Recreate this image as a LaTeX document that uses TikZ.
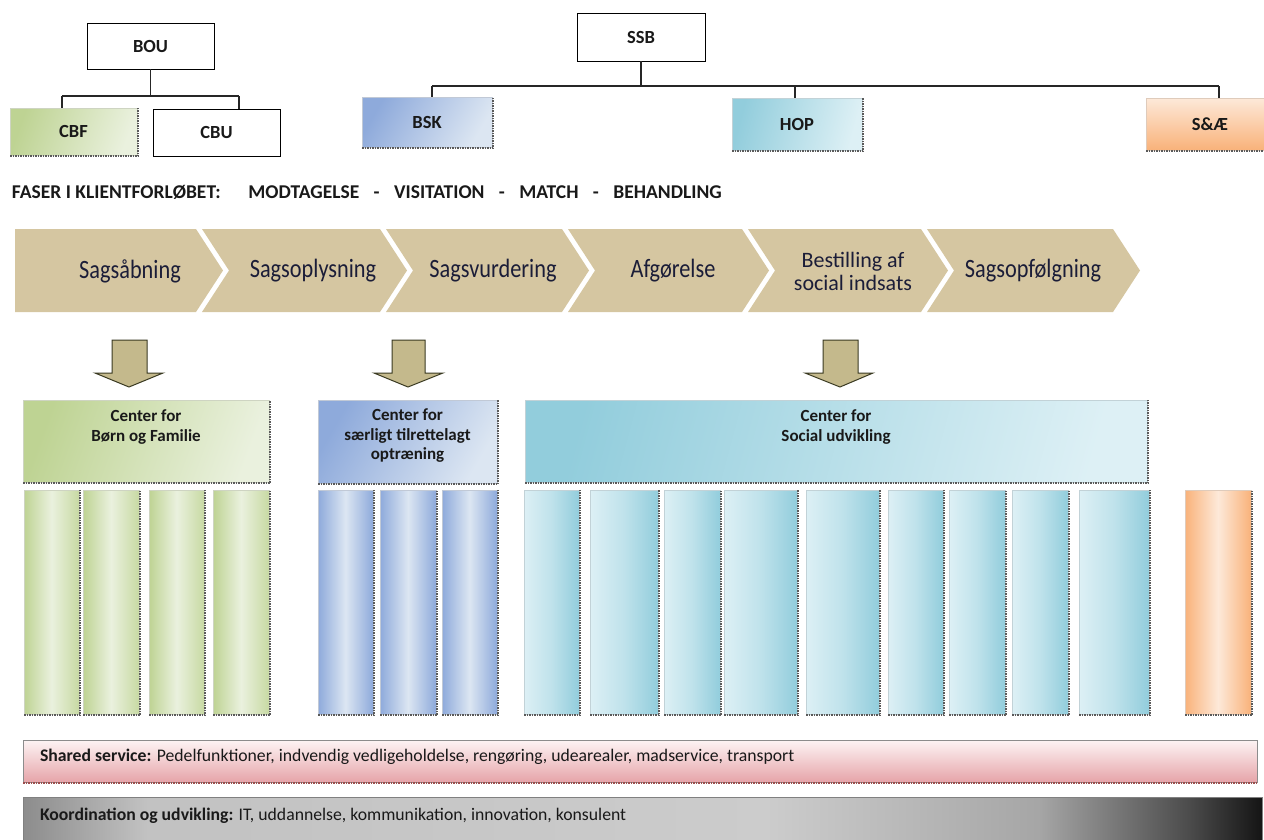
\documentclass[tikz,border=0pt]{standalone}
\usepackage{fontspec}
\setmainfont{Carlito}
\usetikzlibrary{fit,calc}
\definecolor{chev}{HTML}{D5C6A1}
\definecolor{chevtxt}{HTML}{1B1D38}
\definecolor{arrfill}{HTML}{C4B98C}
\definecolor{arrdraw}{HTML}{3A3A22}
\definecolor{gD}{HTML}{BED393}
\definecolor{gL}{HTML}{EAF1DE}
\definecolor{bD}{HTML}{8EAADB}
\definecolor{bL}{HTML}{DCE6F2}
\definecolor{cD}{HTML}{92CDDC}
\definecolor{cL}{HTML}{DDF0F5}
\definecolor{oD}{HTML}{F9B27A}
\definecolor{oL}{HTML}{FDE9D9}
\definecolor{pD}{HTML}{E6A4A9}
\definecolor{pL}{HTML}{FDF4F4}
\definecolor{shd}{HTML}{5A5A5A}
\pgfdeclarehorizontalshading{koordshade}{100bp}{color(0bp)=(black!45); color(25bp)=(black!45); color(30bp)=(black!24); color(55bp)=(black!20); color(66bp)=(black!35); color(72bp)=(black!70); color(75bp)=(black!92); color(100bp)=(black!92)}
\begin{document}
\begin{tikzpicture}[x=1pt,y=-1pt,
  every node/.style={inner sep=0pt, outer sep=0pt},
  orgfont/.style={font=\fontsize{18.5}{20}\selectfont\bfseries, text=black!90},
  orgbox/.style={draw=black, line width=0.9pt, fill=white},
  conn/.style={draw=black!85, line width=1.1pt},
  lbl/.style={font=\fontsize{19.5}{22}\selectfont\bfseries, text=black!90},
  ctext/.style={font=\fontsize{17}{19.5}\selectfont\bfseries, text=black!90, align=center, anchor=north},
  chevbody/.style={fill=chev},
  chevlbl/.style={font=\fontsize{23}{22}\selectfont, text=chevtxt, align=center},
  blockarrow/.style={fill=arrfill, draw=arrdraw, line width=1pt, line join=miter},
  shadowline/.style={draw=shd, line width=1.6pt, dash pattern=on 1.5pt off 1pt},
  gbox/.style={draw=gD!70!black!40, line width=0.3pt, left color=gD, right color=gL, shading angle=70},
  gcol/.style={draw=gD!70!black!40, line width=0.3pt, left color=gD, right color=gD!85, middle color=gL},
  bbox/.style={draw=bD!70!black!40, line width=0.3pt, left color=bD, right color=bL, shading angle=60},
  bcol/.style={draw=bD!70!black!40, line width=0.3pt, left color=bD, right color=bD, middle color=bL},
  cbox/.style={draw=cD!70!black!40, line width=0.3pt, left color=cD, right color=cL, shading angle=75},
  ccol/.style={draw=cD!70!black!40, line width=0.3pt, left color=cL, right color=cD, middle color=cL!60!cD},
  obox/.style={draw=oD!70!black!40, line width=0.3pt, top color=oL, bottom color=oD},
  ocol/.style={draw=oD!70!black!40, line width=0.3pt, left color=oD, right color=oD, middle color=oL},
  barlbl/.style={font=\fontsize{17.7}{20}\selectfont, text=black!90, anchor=west}
]
\useasboundingbox (0,0) rectangle (1264,839);

% ---------- top organisation charts ----------
\node[orgbox, fit={(87,23)(214,69)}] (bou) {};
\node[orgfont] (bout) at (bou.center) {BOU};
\node[gbox, fit={(10,108)(137,155)}] (cbf) {};
\node[orgfont] (cbft) at (cbf.center) {CBF};
\node[orgbox, fit={(153,109)(280,156)}] (cbu) {};
\node[orgfont] (cbut) at (cbu.center) {CBU};
\coordinate (bl) at (62,96);
\coordinate (br) at (239,96);
\draw[conn] (bou.south) -- (bou.south |- bl);
\draw[conn] (bl) -- (br);
\draw[conn] (bl) -- (bl |- cbf.north);
\draw[conn] (br) -- (br |- cbu.north);

\node[orgbox, fit={(577,13)(705,61)}] (ssb) {};
\node[orgfont] (ssbt) at (ssb.center) {SSB};
\node[bbox, fit={(362,97)(492,147)}] (bsk) {};
\node[orgfont] (bskt) at (bsk.center) {BSK};
\node[cbox, fit={(732,98)(862,150)}] (hop) {};
\node[orgfont] (hopt) at (hop.center) {HOP};
\node[obox, fit={(1146,98)(1276,150)}] (sae) {};
\node[orgfont] (saet) at (1210,124) {S\&Æ};
\coordinate (sl) at (432,86);
\coordinate (sh) at (795,86);
\coordinate (sr) at (1219,86);
\draw[conn] (ssb.south) -- (ssb.south |- sl);
\draw[conn] (sl) -- (sr);
\draw[conn] (sl) -- (sl |- bsk.north);
\draw[conn] (sh) -- (sh |- hop.north);
\draw[conn] (sr) -- (sr |- sae.north);

% ---------- phases line ----------
\node[lbl, anchor=west] (faser) at (12,192) {FASER I KLIENTFORLØBET:\hspace{1.42em}MODTAGELSE\hspace{0.74em}-\hspace{0.74em}VISITATION\hspace{0.74em}-\hspace{0.74em}MATCH\hspace{0.74em}-\hspace{0.74em}BEHANDLING};

% ---------- chevrons ----------
\fill[chevbody] (15,229) -- (196,229) -- (223,270.5) -- (196,312) -- (15,312) -- cycle;
\fill[chevbody] (202,229) -- (380,229) -- (407,270.5) -- (380,312) -- (202,312) -- (229,270.5) -- cycle;
\fill[chevbody] (386,229) -- (562,229) -- (589,270.5) -- (562,312) -- (386,312) -- (413,270.5) -- cycle;
\fill[chevbody] (568,229) -- (742,229) -- (769,270.5) -- (742,312) -- (568,312) -- (595,270.5) -- cycle;
\fill[chevbody] (748,229) -- (921,229) -- (948,270.5) -- (921,312) -- (748,312) -- (775,270.5) -- cycle;
\fill[chevbody] (927,229) -- (1113,229) -- (1140,270.5) -- (1113,312) -- (927,312) -- (954,270.5) -- cycle;
\node[chevlbl] (p1) at (130,271) {\scalebox{0.97}[1.15]{Sagsåbning}};
\node[chevlbl] (p2) at (313,271) {\scalebox{0.97}[1.15]{Sagsoplysning}};
\node[chevlbl] (p3) at (493,271) {\scalebox{0.97}[1.15]{Sagsvurdering}};
\node[chevlbl] (p4) at (673,271) {\scalebox{0.97}[1.15]{Afgørelse}};
\node[chevlbl, font=\fontsize{22}{23}\selectfont] (p5) at (853,271) {Bestilling af\\social indsats};
\node[chevlbl] (p6) at (1033,271) {\scalebox{0.97}[1.15]{Sagsopfølgning}};

% ---------- block arrows ----------
\draw[blockarrow] (112,340) -- (147,340) -- (147,373) -- (163,373) -- (129,387) -- (95,373) -- (112,373) -- cycle;
\draw[blockarrow] (392,340) -- (425,340) -- (425,373) -- (443,373) -- (408,387) -- (374,373) -- (392,373) -- cycle;
\draw[blockarrow] (823,340) -- (858,340) -- (858,373) -- (873,373) -- (840,387) -- (805,373) -- (823,373) -- cycle;

% ---------- centres ----------
\node[gbox, fit={(23,400)(269,482)}] (cbfam) {};
\node[ctext] (cbfamt) at (146,410) {Center for\\Børn og Familie};
\node[bbox, fit={(318,400)(497,483)}] (cstO) {};
\node[ctext] (cstOt) at (407.5,409) {Center for\\særligt tilrettelagt\\optræning};
\node[cbox, fit={(525,400)(1147,482)}] (csu) {};
\node[ctext] (csut) at (836,410) {Center for\\Social udvikling};

% ---------- columns ----------
\node[gcol, fit={(24,490)(79,714)}] (g1) {};
\node[gcol, fit={(83,490)(139,714)}] (g2) {};
\node[gcol, fit={(149,490)(204,714)}] (g3) {};
\node[gcol, fit={(213,490)(269,714)}] (g4) {};
\node[bcol, fit={(318,490)(373,714)}] (b1) {};
\node[bcol, fit={(380,490)(436,714)}] (b2) {};
\node[bcol, fit={(442,490)(497,714)}] (b3) {};
\node[ccol, fit={(524,490)(579,714)}] (c1) {};
\node[ccol, fit={(590,490)(658,714)}] (c2) {};
\node[ccol, fit={(664,490)(720,714)}] (c3) {};
\node[ccol, fit={(724,490)(797,714)}] (c4) {};
\node[ccol, fit={(806,490)(879,714)}] (c5) {};
\node[ccol, fit={(888,490)(943,714)}] (c6) {};
\node[ccol, fit={(949,490)(1005,714)}] (c7) {};
\node[ccol, fit={(1012,490)(1068,714)}] (c8) {};
\node[ccol, fit={(1079,490)(1149,714)}] (c9) {};
\node[ocol, fit={(1185,490)(1251,714)}] (o1) {};

% ---------- shadows (dashed bottom / right edges) ----------
\foreach \n in {cbf,bsk,hop,sae,cbfam,cstO,csu,g1,g2,g3,g4,b1,b2,b3,c1,c2,c3,c4,c5,c6,c7,c8,c9,o1}{
  \draw[shadowline] ([yshift=-1pt]\n.south west) -- ([xshift=1pt,yshift=-1pt]\n.south east) -- ([xshift=1pt]\n.north east);
}

% ---------- bars ----------
\node[draw=black!45, line width=0.5pt, top color=pL, bottom color=pD, fit={(23,740)(1257,782)}] (shared) {};
\draw[shadowline, draw=red!45!black!70] ([yshift=-1pt]shared.south west) -- ([yshift=-1pt]shared.south east);
\node[barlbl] (sharedt) at (40,757) {\textbf{Shared service:} Pedelfunktioner, indvendig vedligeholdelse, rengøring, udearealer, madservice, transport};
\node[draw=black!50, line width=0.5pt, shading=koordshade, fit={(23,797)(1262,845)}] (koord) {};
\node[barlbl] (koordt) at (40,816) {\textbf{Koordination og udvikling:} IT, uddannelse, kommunikation, innovation, konsulent};
\end{tikzpicture}
\end{document}
